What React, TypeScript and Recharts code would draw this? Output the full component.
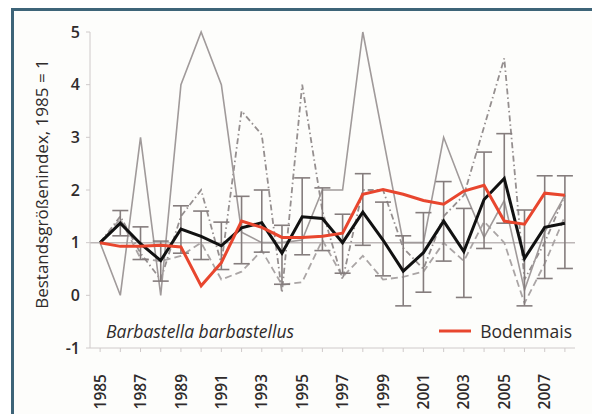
import {
  ComposedChart,
  Line,
  XAxis,
  YAxis,
  ErrorBar,
  ReferenceLine,
  Legend,
} from "recharts";

const years = [
  1985, 1986, 1987, 1988, 1989, 1990, 1991, 1992, 1993, 1994, 1995, 1996,
  1997, 1998, 1999, 2000, 2001, 2002, 2003, 2004, 2005, 2006, 2007, 2008,
];

// mean index over all roosts, with error range
const mean = [
  1.0, 1.37, 0.98, 0.66, 1.26, 1.12, 0.94, 1.28, 1.38, 0.8, 1.49, 1.46, 1.0,
  1.58, 1.05, 0.46, 0.81, 1.41, 0.83, 1.82, 2.22, 0.7, 1.29, 1.37,
];
const meanLow = [
  null, 1.13, 0.68, 0.27, 0.8, 0.68, 0.49, 0.6, 0.82, 0.21, 0.77, 0.85, 0.42,
  0.95, 0.37, -0.2, 0.06, 0.65, -0.04, 0.89, 1.37, -0.2, 0.32, 0.51,
];
const meanHigh = [
  null, 1.61, 1.3, 1.03, 1.7, 1.6, 1.39, 1.88, 2.0, 1.33, 2.23, 2.04, 1.54,
  2.31, 1.77, 1.13, 1.57, 2.16, 1.65, 2.72, 3.07, 1.62, 2.27, 2.27,
];

const bodenmais = [
  1.0, 0.93, 0.93, 0.95, 0.92, 0.18, 0.62, 1.41, 1.29, 1.1, 1.1, 1.12, 1.18,
  1.92, 2.01, 1.92, 1.8, 1.73, 1.98, 2.09, 1.41, 1.35, 1.94, 1.9,
];

// other roosts (grey)
const roostSolid = [
  1.0, 0.0, 3.0, 0.0, 4.0, 5.0, 4.0, 1.2, 1.0, 1.0, 1.05, 2.0, 2.0, 5.0, 3.0,
  1.0, 1.0, 3.0, 2.0, 1.1, 1.8, 0.1, 1.2, 1.9,
];
const roostDashDot = [
  1.0, 1.5, 0.8, 0.3, 1.5, 2.0, 0.6, 3.5, 3.05, 0.05, 4.0, 1.6, 0.3, 2.0, 2.0,
  0.9, 0.5, 1.5, 1.9, 3.2, 4.5, 0.3, 1.0, 1.9,
];
const roostDashed = [
  1.0, 1.45, 0.7, 0.65, 0.75, 1.0, 0.3, 0.45, 0.85, 0.2, 0.25, 1.05, 0.35,
  0.75, 0.3, 0.35, 0.45, 1.0, 0.65, 1.4, 1.0, -0.15, 0.6, 1.5,
];

const yTicks = [-1, 0, 1, 2, 3, 4, 5];

const data = years.map((year, i) => ({
  year,
  mean: mean[i],
  err:
    meanLow[i] == null
      ? null
      : [mean[i] - (meanLow[i] as number), (meanHigh[i] as number) - mean[i]],
  bodenmais: bodenmais[i],
  roostSolid: roostSolid[i],
  roostDashDot: roostDashDot[i],
  roostDashed: roostDashed[i],
}));

const FONT = "'Open Sans', sans-serif";
const TEXT = "#2f2b2b";
const AXIS = "#cfcaca";

function YearTick({ x, y, payload }: any) {
  if (payload.value % 2 === 0) return null;
  const ty = y + 20;
  return (
    <text
      x={x}
      y={ty}
      transform={`rotate(-90 ${x} ${ty})`}
      textAnchor="end"
      dy="0.36em"
      fontFamily={FONT}
      fontSize={15.5}
      fontWeight={600}
      fill={TEXT}
    >
      {payload.value}
    </text>
  );
}

function YLabel() {
  return (
    <text
      x={42}
      y={184}
      transform="rotate(-90 42 184)"
      textAnchor="middle"
      dy="0.36em"
      fontFamily={FONT}
      fontSize={17}
      fontWeight={500}
      fill={TEXT}
    >
      Bestandsgrößenindex, 1985 = 1
    </text>
  );
}

function ChartLegend({ payload }: any) {
  const item = (payload || []).find((p: any) => p.dataKey === "bodenmais");
  return (
    <div
      style={{
        display: "flex",
        justifyContent: "space-between",
        alignItems: "center",
        fontFamily: FONT,
        fontSize: 17.5,
        color: TEXT,
        lineHeight: "24px",
      }}
    >
      <span style={{ fontStyle: "italic" }}>Barbastella barbastellus</span>
      {item && (
        <span style={{ display: "flex", alignItems: "center" }}>
          <svg width={32} height={10} style={{ marginRight: 9 }}>
            <line x1={0} y1={5} x2={32} y2={5} stroke={item.color} strokeWidth={3} />
          </svg>
          {item.value}
        </span>
      )}
    </div>
  );
}

export default function App() {
  return (
    <div
      style={{
        position: "absolute",
        left: 0,
        top: 0,
        width: 592,
        height: 414,
        background: "#ffffff",
        overflow: "hidden",
      }}
    >
      <div
        style={{
          position: "absolute",
          left: 11,
          top: 8,
          width: 600,
          height: 420,
          borderTop: "3px solid #3d6478",
          borderLeft: "3px solid #3d6478",
          background: "#fdfdfb",
        }}
      />
      <div style={{ position: "absolute", left: 0, top: 0 }}>
        <ComposedChart
          width={592}
          height={414}
          data={data}
          margin={{ top: 32, right: 17, bottom: 0, left: 0 }}
        >
          <XAxis
            dataKey="year"
            type="number"
            domain={[1984.5, 2008.5]}
            ticks={years}
            interval={0}
            height={66}
            stroke={AXIS}
            tickSize={4}
            tick={<YearTick />}
          />
          <YAxis
            type="number"
            domain={[-1, 5]}
            ticks={yTicks}
            width={90}
            stroke={AXIS}
            tickSize={4}
            tickMargin={6}
            tick={{ fontFamily: FONT, fontSize: 16, fontWeight: 600, fill: TEXT }}
            label={YLabel}
          />
          <ReferenceLine y={1} stroke="#bdb7b7" strokeWidth={1.5} />
          <Line
            dataKey="roostDashed"
            stroke="#aaa5a5"
            strokeWidth={1.8}
            strokeDasharray="7 4"
            dot={false}
            legendType="none"
            isAnimationActive={false}
          />
          <Line
            dataKey="roostDashDot"
            stroke="#958f8f"
            strokeWidth={1.8}
            strokeDasharray="6 3 1.5 3"
            dot={false}
            legendType="none"
            isAnimationActive={false}
          />
          <Line
            dataKey="roostSolid"
            stroke="#a09a9a"
            strokeWidth={1.6}
            dot={false}
            legendType="none"
            isAnimationActive={false}
          />
          <Line
            dataKey="mean"
            stroke="none"
            dot={false}
            legendType="none"
            isAnimationActive={false}
          >
            <ErrorBar
              dataKey="err"
              direction="y"
              width={8}
              stroke="#857d7d"
              strokeWidth={1.6}
            />
          </Line>
          <Line
            dataKey="mean"
            stroke="#111111"
            strokeWidth={3}
            dot={false}
            legendType="none"
            isAnimationActive={false}
          />
          <Line
            dataKey="bodenmais"
            name="Bodenmais"
            stroke="#e8462e"
            strokeWidth={3}
            dot={false}
            isAnimationActive={false}
          />
          <Legend
            layout="horizontal"
            verticalAlign="middle"
            align="center"
            content={<ChartLegend />}
            wrapperStyle={{ left: 106, top: 319, width: 466 }}
          />
        </ComposedChart>
      </div>
    </div>
  );
}
